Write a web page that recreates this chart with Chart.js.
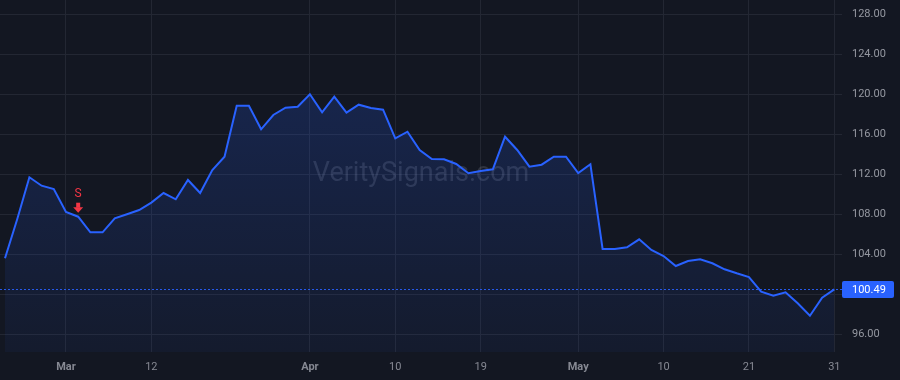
<!DOCTYPE html>
<html><head><meta charset="utf-8">
<script src="https://cdn.jsdelivr.net/npm/chart.js@4.4.1/dist/chart.umd.min.js"></script>
<style>html,body{margin:0;padding:0;background:#131722;}#wrap{width:900px;height:380px;position:relative;}</style>
</head><body><div id="wrap"><canvas id="c"></canvas></div>
<script>
const dates = ['2024-02-23','2024-02-26','2024-02-27','2024-02-28','2024-02-29',
'2024-03-01','2024-03-04','2024-03-05','2024-03-06','2024-03-07','2024-03-08','2024-03-11','2024-03-12','2024-03-13','2024-03-14','2024-03-15','2024-03-18','2024-03-19','2024-03-20','2024-03-21','2024-03-22','2024-03-25','2024-03-26','2024-03-27','2024-03-28',
'2024-04-01','2024-04-02','2024-04-03','2024-04-04','2024-04-05','2024-04-08','2024-04-09','2024-04-10','2024-04-11','2024-04-12','2024-04-15','2024-04-16','2024-04-17','2024-04-18','2024-04-19','2024-04-22','2024-04-23','2024-04-24','2024-04-25','2024-04-26','2024-04-29','2024-04-30',
'2024-05-01','2024-05-02','2024-05-03','2024-05-06','2024-05-07','2024-05-08','2024-05-09','2024-05-10','2024-05-13','2024-05-14','2024-05-15','2024-05-16','2024-05-17','2024-05-20','2024-05-21','2024-05-22','2024-05-23','2024-05-24','2024-05-28','2024-05-29','2024-05-30','2024-05-31'];
const closes = [103.6,107.5,111.7,110.86,110.53,
108.23,107.76,106.2,106.2,107.6,108.0,108.43,109.17,110.13,109.5,111.43,110.13,112.43,113.76,118.86,118.86,116.5,117.93,118.66,118.76,
120.0,118.2,119.76,118.16,118.96,118.63,118.46,115.6,116.26,114.43,113.53,113.5,113.03,112.1,112.33,112.5,115.76,114.43,112.76,112.96,113.76,113.76,
112.13,113.0,104.53,104.53,104.7,105.5,104.43,103.83,102.83,103.33,103.5,103.1,102.5,102.1,101.73,100.26,99.86,100.2,99.1,97.86,99.66,100.49];
const tickDates = ['2024-03-01','2024-03-12','2024-04-01','2024-04-10','2024-04-19','2024-05-01','2024-05-10','2024-05-21','2024-05-31'];
const tickLabels = ['Mar','12','Apr','10','19','May','10','21','31'];
const monthLabels = ['Mar','Apr','May'];
const yTickValues = [96,100,104,108,112,116,120,124,128];
const signalDates = ['2024-03-04'];
const signalLabels = ['S'];
const watermark = 'VeritySignals.com';

const tickIndices = tickDates.map(d => dates.indexOf(d));
const points = closes.map((v, i) => ({x: i, y: v}));
const lastPrice = closes[closes.length - 1];

const BG = '#131722';
const LINE = '#2962ff';
const GRID = '#232733';
const FONT = 'Roboto, "Liberation Sans", sans-serif';

function noPad(s) { s.paddingTop = 0; s.paddingBottom = 0; s.paddingLeft = 0; s.paddingRight = 0; }

const overlay = {
  id: 'overlay',
  beforeDraw(chart) {
    const c = chart.ctx;
    c.save();
    c.fillStyle = BG;
    c.fillRect(0, 0, chart.width, chart.height);
    c.restore();
  },
  beforeDatasetsDraw(chart) {
    const c = chart.ctx, a = chart.chartArea;
    c.save();
    c.font = '27px ' + FONT;
    c.fillStyle = 'rgba(150,155,170,0.22)';
    c.textAlign = 'center';
    c.textBaseline = 'middle';
    c.fillText(watermark, 421, 174);
    c.restore();
  },
  afterDraw(chart) {
    const c = chart.ctx, a = chart.chartArea;
    const xs = chart.scales.x, ys = chart.scales.y;
    const py = Math.round(ys.getPixelForValue(lastPrice)) + 0.5;
    c.save();
    c.strokeStyle = 'rgba(41,98,255,0.9)';
    c.lineWidth = 1;
    c.setLineDash([2, 2]);
    c.beginPath();
    c.moveTo(a.left, py);
    c.lineTo(a.right, py);
    c.stroke();
    c.setLineDash([]);
    c.fillStyle = LINE;
    const bx = a.right, bw = 52, bh = 17;
    c.beginPath();
    if (c.roundRect) c.roundRect(bx, py - bh / 2, bw, bh, 2); else c.rect(bx, py - bh / 2, bw, bh);
    c.fill();
    c.fillStyle = '#ffffff';
    c.font = '11px ' + FONT;
    c.textAlign = 'left';
    c.textBaseline = 'middle';
    c.fillText(lastPrice.toFixed(2), bx + 10, py + 0.5);
    signalDates.forEach((d, k) => {
      const i = dates.indexOf(d);
      const x = xs.getPixelForValue(i);
      const y = ys.getPixelForValue(closes[i]);
      c.fillStyle = '#f23645';
      c.font = '12px ' + FONT;
      c.textAlign = 'center';
      c.textBaseline = 'middle';
      c.fillText(signalLabels[k], x, y - 23);
      const tip = y - 4;
      c.beginPath();
      c.rect(x - 2, tip - 10, 4, 5);
      c.fill();
      c.beginPath();
      c.moveTo(x - 5, tip - 5.5);
      c.lineTo(x + 5, tip - 5.5);
      c.lineTo(x, tip);
      c.closePath();
      c.fill();
    });
    c.restore();
  }
};

new Chart(document.getElementById('c'), {
  type: 'line',
  data: {
    datasets: [{
      data: points,
      borderColor: LINE,
      borderWidth: 2,
      pointRadius: 0,
      tension: 0,
      fill: 'start',
      backgroundColor: (ctx) => {
        const a = ctx.chart.chartArea;
        if (!a) return 'rgba(41,98,255,0.12)';
        const g = ctx.chart.ctx.createLinearGradient(0, a.top, 0, a.bottom);
        g.addColorStop(0, 'rgba(41,98,255,0.24)');
        g.addColorStop(1, 'rgba(41,98,255,0.05)');
        return g;
      }
    }]
  },
  options: {
    responsive: true,
    maintainAspectRatio: false,
    animation: false,
    layout: {padding: 0},
    plugins: {legend: {display: false}, tooltip: {enabled: false}},
    scales: {
      x: {
        type: 'linear',
        min: -0.41,
        max: 68.63,
        afterBuildTicks: (s) => { s.ticks = tickIndices.map(v => ({value: v})); },
        afterFit: (s) => { s.height = 28; noPad(s); },
        grid: {color: GRID, drawTicks: false},
        border: {display: false},
        ticks: {
          autoSkip: false,
          maxRotation: 0,
          padding: 9,
          color: '#868993',
          callback: (v, i) => tickLabels[i],
          font: (ctx) => ({family: FONT, size: 11, weight: (ctx.tick && monthLabels.includes(tickLabels[ctx.index])) ? 'bold' : 'normal'})
        }
      },
      y: {
        position: 'right',
        min: 94.23,
        max: 129.43,
        afterBuildTicks: (s) => { s.ticks = yTickValues.map(v => ({value: v})); },
        afterFit: (s) => { s.width = 58; noPad(s); },
        grid: {color: GRID, drawTicks: false},
        border: {display: false},
        ticks: {
          padding: 10,
          color: '#9598a1',
          crossAlign: 'near',
          font: {family: FONT, size: 11},
          callback: (v) => Number(v).toFixed(2)
        }
      }
    }
  },
  plugins: [overlay]
});
</script>
</body></html>
